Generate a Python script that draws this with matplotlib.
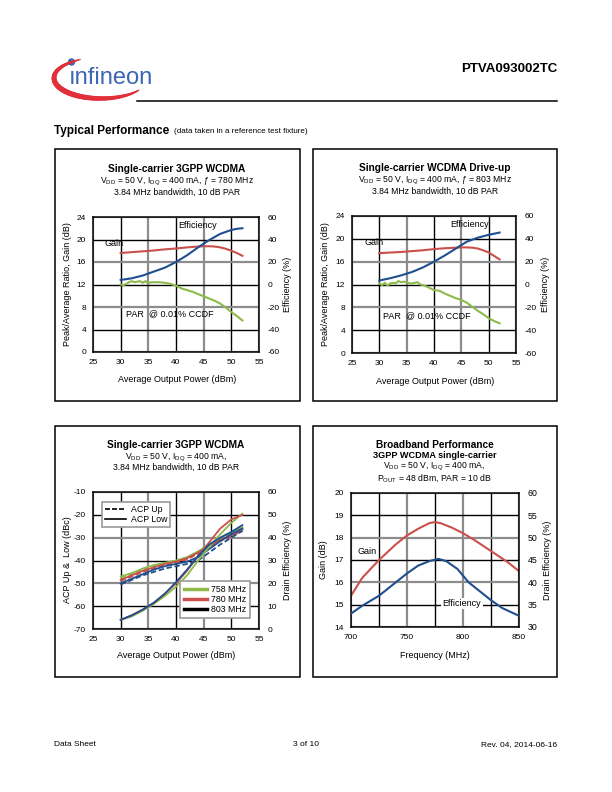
import numpy as np
import matplotlib
matplotlib.use('Agg')
import matplotlib.pyplot as plt
from matplotlib.patches import Rectangle, Circle
from matplotlib.lines import Line2D
from matplotlib.collections import LineCollection
from matplotlib.ticker import FuncFormatter

plt.rcParams['font.family'] = ['Liberation Sans', 'DejaVu Sans']
plt.rcParams['mathtext.fontset'] = 'custom'
plt.rcParams['mathtext.rm'] = 'Liberation Sans'
plt.rcParams['mathtext.default'] = 'regular'
plt.rcParams['axes.unicode_minus'] = False

RED = '#c9504c'
BLUE = '#1f4f8f'
GREEN = '#8dba4a'

# ---- chart 1: single-carrier 3GPP WCDMA, 780 MHz
c1_gain_x = [30, 32, 34, 36, 38, 40, 42, 44, 45, 46, 47, 48, 49, 50, 51, 52]
c1_gain_y = [17.6, 17.75, 17.9, 18.05, 18.25, 18.4, 18.6, 18.75, 18.8, 18.8, 18.75, 18.6, 18.35, 18.0, 17.6, 17.1]
c1_eff_x = [30, 32, 34, 36, 38, 40, 42, 44, 46, 48, 50, 51, 52]
c1_eff_y = [4.0, 5.5, 8.0, 11.5, 15.0, 20.0, 26.0, 33.0, 39.5, 45.0, 48.5, 49.5, 50.0]
c1_par_x = [30, 30.5, 31, 31.5, 32, 32.5, 33, 33.5, 34, 34.5, 35, 35.5, 36, 37, 38, 39, 40,
            41, 42, 43, 44, 45, 46, 47, 48, 49, 50, 51, 52]
c1_par_y = [12.0, 11.9, 12.1, 12.4, 12.6, 12.4, 12.5, 12.6, 12.3, 12.6, 12.2, 12.4, 12.4, 12.4,
            12.3, 12.1, 11.8, 11.3, 11.0, 10.7, 10.3, 9.9, 9.5, 9.1, 8.6, 7.9, 7.1, 6.4, 5.6]

# ---- chart 2: single-carrier WCDMA drive-up, 803 MHz
c2_gain_x = [30, 32, 34, 36, 38, 40, 42, 44, 45, 46, 47, 48, 49, 50, 51, 52]
c2_gain_y = [17.5, 17.6, 17.7, 17.85, 18.0, 18.2, 18.35, 18.45, 18.5, 18.5, 18.45, 18.3, 18.0, 17.6, 17.0, 16.4]
c2_eff_x = [30, 32, 34, 36, 38, 40, 42, 44, 46, 48, 50, 52]
c2_eff_y = [3.5, 5.5, 8.0, 11.0, 15.0, 20.0, 25.5, 31.5, 37.5, 41.0, 43.5, 45.5]
c2_par_x = [30, 30.5, 31, 31.5, 32, 32.5, 33, 33.5, 34, 34.5, 35, 35.5, 36, 36.5, 37, 37.5, 38,
            39, 40, 41, 42, 43, 44, 45, 46, 47, 48, 49, 50, 51, 52]
c2_par_y = [12.2, 11.9, 12.3, 11.8, 12.2, 12.3, 12.2, 12.6, 12.4, 12.5, 12.4, 12.2, 12.2, 12.3,
            12.4, 12.0, 11.9, 11.5, 11.0, 10.9, 10.4, 10.0, 9.6, 9.3, 8.8, 8.1, 7.4, 6.8, 6.1, 5.6, 5.2]

# ---- chart 3: ACP and drain efficiency vs power, three frequencies
c3_x = [30, 32, 34, 36, 38, 40, 42, 44, 46, 48, 50, 52]
c3_freqs = ['758 MHz', '780 MHz', '803 MHz']
c3_acp_low = {
    '758 MHz': [-47, -45.5, -43.5, -42, -41, -40, -38.5, -36, -33, -30, -27.5, -25.5],
    '780 MHz': [-48.5, -46.5, -44.5, -43, -41.5, -40.5, -39, -36.5, -33.5, -31, -29, -26.5],
    '803 MHz': [-50, -48, -46, -44, -42.5, -41.5, -40.5, -38.5, -35, -31.5, -28.5, -26],
}
c3_acp_up = {
    '758 MHz': [-47.5, -46, -44, -42.5, -41.5, -40.5, -39, -36.5, -33.5, -30.5, -28, -26],
    '780 MHz': [-49, -47, -45, -43.5, -42, -41, -39.5, -37, -34, -31.5, -29.5, -27],
    '803 MHz': [-50.5, -48.5, -46.5, -45, -43.5, -42.5, -41.5, -40, -36.5, -33, -30, -27],
}
c3_eff = {
    '758 MHz': [4, 5.5, 8, 11, 14.5, 18.5, 23.5, 30, 36, 41.5, 46.5, 50.5],
    '780 MHz': [4, 6, 8.5, 11.5, 15.5, 20, 25.5, 32, 38, 44, 48, 50],
    '803 MHz': [4, 6, 8.5, 11.5, 15.5, 20.5, 26, 32, 37, 40, 42.5, 45.5],
}
c3_colors = {'758 MHz': GREEN, '780 MHz': RED, '803 MHz': BLUE}

# ---- chart 4: broadband performance
c4_freq = [700, 710, 725, 740, 750, 760, 770, 775, 780, 790, 800, 810, 825, 840, 850]
c4_gain = [15.4, 16.2, 17.0, 17.7, 18.1, 18.4, 18.65, 18.7, 18.65, 18.45, 18.2, 17.9, 17.4, 16.9, 16.5]
c4_eff_f = [700, 710, 725, 740, 750, 760, 770, 778, 785, 795, 805, 815, 825, 835, 850]
c4_eff = [33.0, 34.75, 37.0, 40.0, 42.0, 43.75, 44.75, 45.25, 44.75, 43.0, 40.0, 38.0, 36.0, 34.25, 32.5]

W, H = 612, 792
fig = plt.figure(figsize=(W / 100, H / 100), dpi=100)
bg = fig.add_axes([0, 0, 1, 1])
bg.set_xlim(0, W)
bg.set_ylim(H, 0)
bg.axis('off')


def px_axes(l, t, r, b):
    return fig.add_axes([l / W, 1 - b / H, (r - l) / W, (b - t) / H])


def style_grid(ax, axis):
    lines = ax.xaxis.get_gridlines() if axis == 'x' else ax.yaxis.get_gridlines()
    for i, gl in enumerate(lines):
        if i % 2 == 1:
            gl.set_color('black')
            gl.set_linewidth(1.0)
        else:
            gl.set_color('#8c8c8c')
            gl.set_linewidth(1.6)


def base_axes(ax):
    ax.grid(True)
    for s in ax.spines.values():
        s.set_linewidth(1.1)
    ax.tick_params(length=0, labelsize=6, pad=5)
    ax.set_axisbelow(True)


# ---------------- page decoration (logo, header, footer)
# red swoosh of the logo: tapered elliptical arc
th = np.radians(np.linspace(36, 244, 80))
sx = 101 + 47 * np.cos(th)
sy = 78 + 20.5 * np.sin(th)
segs = np.stack([np.column_stack([sx[:-1], sy[:-1]]), np.column_stack([sx[1:], sy[1:]])], axis=1)
widths = 0.8 + 3.0 * np.sin(np.linspace(0, np.pi, len(segs))) ** 0.7
bg.add_collection(LineCollection(segs, linewidths=widths, colors='#e2303a', capstyle='round'))
bg.text(69, 83.5, 'ınfineon', fontsize=17, color='#3d66b3', va='baseline', ha='left')
bg.add_patch(Circle((71.5, 62), 3.0, color='#3d66b3'))
bg.text(557, 69, 'PTVA093002TC', fontsize=9.5, weight='bold', ha='right', va='center')
bg.plot([137, 557], [101, 101], color='black', lw=1.1)
bg.text(54, 131, 'Typical Performance', fontsize=8.5, weight='bold', ha='left', va='center')
bg.text(174, 131.5, '(data taken in a reference test fixture)', fontsize=5.8, ha='left', va='center')
bg.text(54, 745, 'Data Sheet', fontsize=6, ha='left', va='center')
bg.text(306, 745, '3 of 10', fontsize=6, ha='center', va='center')
bg.text(557, 745, 'Rev. 04, 2014-06-16', fontsize=6, ha='right', va='center')

panels = [(54.5, 149, 299.5, 401), (313, 149, 557, 401),
          (54.5, 425.5, 299.5, 677), (313, 425.5, 557, 677)]
for (l, t, r, b) in panels:
    bg.add_patch(Rectangle((l, t), r - l, b - t, fill=False, ec='black', lw=1.1))


# ---------------- charts 1 & 2
def drive_chart(l, t, r, b, cx, title, sub1, sub2, gx, gy, ex, ey, parx, pary, eff_xy, gain_xy, par_xy):
    ax = px_axes(l, t, r, b)
    ax.set_xlim(25, 55)
    ax.set_ylim(0, 24)
    ax.set_xticks(np.arange(25, 56, 5))
    ax.set_yticks(np.arange(0, 25, 4))
    base_axes(ax)
    style_grid(ax, 'x')
    style_grid(ax, 'y')
    ax.plot(gx, gy, color=RED, lw=1.5)
    ax.plot(parx, pary, color=GREEN, lw=1.5)
    ax2 = ax.twinx()
    ax2.set_ylim(-60, 60)
    ax2.set_yticks(np.arange(-60, 61, 20))
    ax2.tick_params(length=0, labelsize=6, pad=6)
    for s in ax2.spines.values():
        s.set_visible(False)
    ax2.plot(ex, ey, color=BLUE, lw=1.5)
    ax.text(*eff_xy, 'Efficiency', fontsize=6.5, ha='center', va='center')
    ax.text(*gain_xy, 'Gain', fontsize=6.5, ha='center', va='center')
    ax.text(*par_xy, 'PAR  @ 0.01% CCDF', fontsize=6.5, ha='center', va='center')
    bg.text(cx, t - 48, title, fontsize=7.3, weight='bold', ha='center', va='center')
    bg.text(cx, t - 35.5, sub1, fontsize=6.2, ha='center', va='center')
    bg.text(cx, t - 24.5, sub2, fontsize=6.2, ha='center', va='center')
    bg.text(cx, b + 28, 'Average Output Power (dBm)', fontsize=6.5, ha='center', va='center')
    return ax


drive_chart(93, 217, 259, 352, 177, 'Single-carrier 3GPP WCDMA',
            'V$_{DD}$ = 50 V, I$_{DQ}$ = 400 mA, ƒ = 780 MHz', '3.84 MHz bandwidth, 10 dB PAR',
            c1_gain_x, c1_gain_y, c1_eff_x, c1_eff_y, c1_par_x, c1_par_y,
            (43.9, 22.4), (28.8, 19.3), (38.9, 6.75))
bg.text(68, 284.5, 'Peak/Average Ratio, Gain (dB)', fontsize=6.5, rotation=90, ha='center', va='center')
bg.text(287, 284.5, 'Efficiency (%)', fontsize=6.5, rotation=90, ha='center', va='center')

drive_chart(352, 216, 516, 353, 435, 'Single-carrier WCDMA Drive-up',
            'V$_{DD}$ = 50 V, I$_{DQ}$ = 400 mA, ƒ = 803 MHz', '3.84 MHz bandwidth, 10 dB PAR',
            c2_gain_x, c2_gain_y, c2_eff_x, c2_eff_y, c2_par_x, c2_par_y,
            (46.5, 22.5), (29.0, 19.3), (38.7, 6.6))
bg.text(326, 284.5, 'Peak/Average Ratio, Gain (dB)', fontsize=6.5, rotation=90, ha='center', va='center')
bg.text(545, 284.5, 'Efficiency (%)', fontsize=6.5, rotation=90, ha='center', va='center')

# ---------------- chart 3
ax = px_axes(93, 492, 259, 629)
ax.set_xlim(25, 55)
ax.set_ylim(-70, -10)
ax.set_xticks(np.arange(25, 56, 5))
ax.set_yticks(np.arange(-70, -9, 10))
base_axes(ax)
style_grid(ax, 'x')
style_grid(ax, 'y')
ax2 = ax.twinx()
ax2.set_ylim(0, 60)
ax2.set_yticks(np.arange(0, 61, 10))
ax2.tick_params(length=0, labelsize=6, pad=6)
for s in ax2.spines.values():
    s.set_visible(False)
for f in c3_freqs:
    ax.plot(c3_x, c3_acp_low[f], color=c3_colors[f], lw=1.3)
    ax.plot(c3_x, c3_acp_up[f], color=c3_colors[f], lw=1.3, ls=(0, (3, 1.5)))
    ax2.plot(c3_x, c3_eff[f], color=c3_colors[f], lw=1.3)
acp_handles = [Line2D([], [], color='black', lw=1.2, ls=(0, (3, 1.2))),
               Line2D([], [], color='black', lw=1.2)]
leg1 = ax2.legend(acp_handles, ['ACP Up', 'ACP Low'], loc='upper left',
                  bbox_to_anchor=(0.03, 0.96), fontsize=6.3, frameon=True, fancybox=False,
                  edgecolor='#9a9a9a', framealpha=1, handlelength=2.4, borderpad=0.35,
                  labelspacing=0.15, handletextpad=0.5)
leg1.get_frame().set_linewidth(1.2)
ax2.add_artist(leg1)
f_handles = [Line2D([], [], color=GREEN, lw=2.5), Line2D([], [], color=RED, lw=2.5),
             Line2D([], [], color='black', lw=2.5)]
leg2 = ax2.legend(f_handles, c3_freqs, loc='lower right', bbox_to_anchor=(0.97, 0.05),
                  fontsize=6.3, frameon=True, fancybox=False, edgecolor='#9a9a9a',
                  framealpha=1, handlelength=2.6, borderpad=0.4, labelspacing=0.15,
                  handletextpad=0.5)
leg2.get_frame().set_linewidth(1.2)
bg.text(176, 445.5, 'Single-carrier 3GPP WCDMA', fontsize=7.3, weight='bold', ha='center', va='center')
bg.text(176, 457.3, 'V$_{DD}$ = 50 V, I$_{DQ}$ = 400 mA,', fontsize=6.2, ha='center', va='center')
bg.text(176, 467.5, '3.84 MHz bandwidth, 10 dB PAR', fontsize=6.2, ha='center', va='center')
bg.text(176, 655, 'Average Output Power (dBm)', fontsize=6.5, ha='center', va='center')
bg.text(67.7, 560, 'ACP Up &  Low (dBc)', fontsize=6.5, rotation=90, ha='center', va='center')
bg.text(287, 560, 'Drain Efficiency (%)', fontsize=6.5, rotation=90, ha='center', va='center')

# ---------------- chart 4
ax = px_axes(351, 493, 519, 627)
ax.set_xlim(700, 850)
ax.set_ylim(14, 20)
ax.set_xticks(np.arange(700, 851, 25))
ax.xaxis.set_major_formatter(FuncFormatter(lambda v, p: '%d' % v if v % 50 == 0 else ''))
ax.set_yticks(np.arange(14, 21, 1))
base_axes(ax)
style_grid(ax, 'x')
style_grid(ax, 'y')
ax.plot(c4_freq, c4_gain, color=RED, lw=1.5)
ax2 = ax.twinx()
ax2.set_ylim(30, 60)
ax2.set_yticks(np.arange(30, 61, 5))
ax2.tick_params(length=0, labelsize=6.3, pad=6)
for s in ax2.spines.values():
    s.set_visible(False)
ax2.plot(c4_eff_f, c4_eff, color=BLUE, lw=1.5)
ax.text(714, 17.4, 'Gain', fontsize=6.5, ha='center', va='center')
ax.text(799, 15.05, 'Efficiency', fontsize=6.5, ha='center', va='center',
        bbox=dict(facecolor='white', edgecolor='none', pad=1))
bg.text(434.5, 444.5, 'Broadband Performance', fontsize=7.3, weight='bold', ha='center', va='center')
bg.text(434.5, 455.5, '3GPP WCDMA single-carrier', fontsize=6.6, weight='bold', ha='center', va='center')
bg.text(434.5, 466, 'V$_{DD}$ = 50 V, I$_{DQ}$ = 400 mA,', fontsize=6.2, ha='center', va='center')
bg.text(434.5, 477.5, 'P$_{OUT}$ = 48 dBm, PAR = 10 dB', fontsize=6.2, ha='center', va='center')
bg.text(434.5, 655, 'Frequency (MHz)', fontsize=6.5, ha='center', va='center')
bg.text(324, 560, 'Gain (dB)', fontsize=6.5, rotation=90, ha='center', va='center')
bg.text(547, 560, 'Drain Efficiency (%)', fontsize=6.5, rotation=90, ha='center', va='center')

fig.savefig('out.png', dpi=100)
